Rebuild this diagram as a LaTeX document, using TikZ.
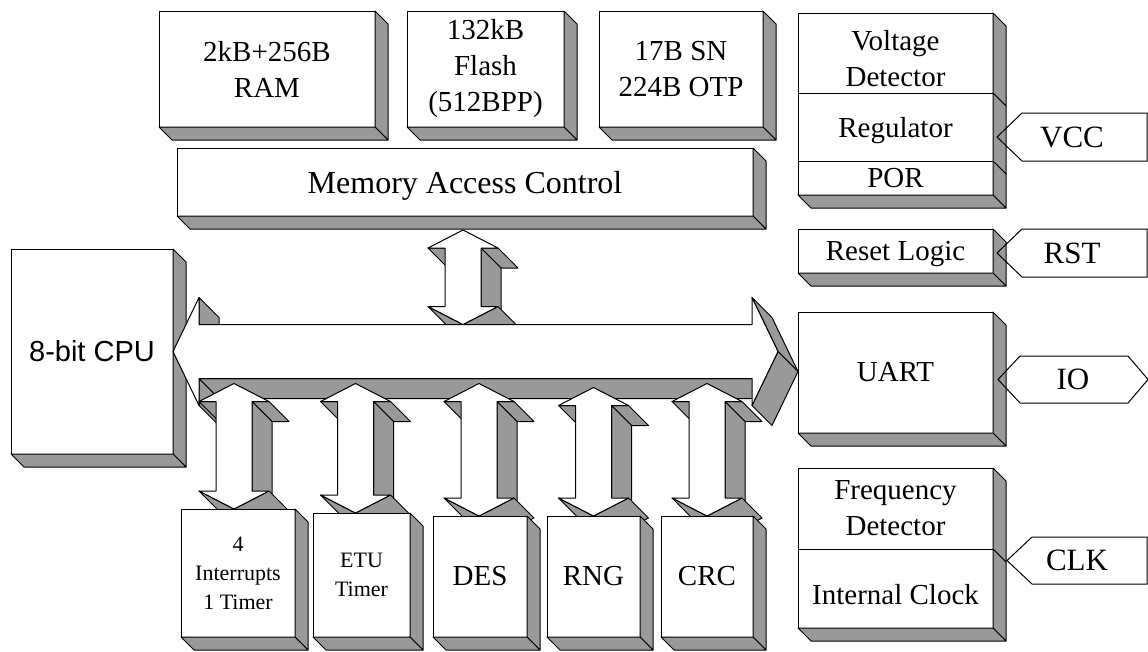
\documentclass[tikz,border=0pt]{standalone}
\usepackage{fontspec}
\setmainfont{Liberation Serif}
\setsansfont{Liberation Sans}
\usepackage{tikz}
\usetikzlibrary{calc,positioning}
\pgfdeclarelayer{back}
\pgfsetlayers{back,main}

\tikzset{
	blk/.style={draw, fill=white, line width=1pt, inner sep=0pt, outer sep=0pt, align=center, font=\fontsize{29}{36}\selectfont},
	small/.style={font=\fontsize{22}{29}\selectfont},
	side/.style={draw, fill=black!40, line width=1pt, line join=round},
	face/.style={draw, fill=white, line width=1pt, line join=round},
	pin/.style={inner sep=0pt, outer sep=0pt, align=center, font=\fontsize{31}{36}\selectfont}
}

\newcommand{\sidedepth}[1]{\filldraw[side] (#1.north east) -- (#1.south east) -- ++(13,13) -- ($(#1.north east)+(13,13)$) -- cycle;}
\newcommand{\basedepth}[1]{\filldraw[side] (#1.south west) -- (#1.south east) -- ++(13,13) -- ($(#1.south west)+(13,13)$) -- cycle;}
\newcommand{\boxdepth}[1]{\sidedepth{#1}\basedepth{#1}}
\newcommand{\pinleft}[1]{\draw[line width=1pt] (#1.west) -- ($(#1.north west)+(25,0)$) -- (#1.north east) -- (#1.south east) -- ($(#1.south west)+(25,0)$) -- cycle;}
\newcommand{\updown}[2]{%
	\path #1 coordinate (tp) #2 coordinate (bt);
	\filldraw[side] ($(tp)+(35,18)$) -- ($(tp)+(18,18)$) -- ($(tp)+(38,38)$) -- ($(tp)+(55,38)$) -- cycle;
	\filldraw[side] ($(tp)+(18,18)$) -- ($(bt)+(18,-18)$) -- ($(bt)+(38,2)$) -- ($(tp)+(38,38)$) -- cycle;
	\filldraw[side] ($(tp)+(-18,18)$) -- ($(tp)+(-35,18)$) -- ($(tp)+(-15,38)$) -- ($(tp)+(2,38)$) -- cycle;
	\filldraw[side] ($(bt)+(35,-18)$) -- (bt) -- ($(bt)+(20,20)$) -- ($(bt)+(55,2)$) -- cycle;
	\filldraw[side] (bt) -- ($(bt)+(-35,-18)$) -- ($(bt)+(-15,2)$) -- ($(bt)+(20,20)$) -- cycle;
	\filldraw[face] (tp) -- ($(tp)+(35,18)$) -- ($(tp)+(18,18)$) -- ($(bt)+(18,-18)$) -- ($(bt)+(35,-18)$) -- (bt)
		-- ($(bt)+(-35,-18)$) -- ($(bt)+(-18,-18)$) -- ($(tp)+(-18,18)$) -- ($(tp)+(-35,18)$) -- cycle;}

\begin{document}
\begin{tikzpicture}[x=1pt,y=-1pt]
	\useasboundingbox (0,0) rectangle (1148,651);

	\node[blk, minimum width=216pt, minimum height=116pt] (ram) at (267,69) {2kB+256B\\RAM};
	\node[blk, minimum width=157pt, minimum height=116pt] (flash) at (485.5,69) {132kB\\Flash\\(512BPP)};
	\node[blk, minimum width=164pt, minimum height=116pt] (sn) at (681,69) {17B SN\\224B OTP};
	\node[blk, minimum width=576pt, minimum height=68pt, text depth=0pt, font=\fontsize{32}{36}\selectfont] (mac) at (465,182) {Memory Access Control};
	\boxdepth{ram}
	\boxdepth{flash}
	\boxdepth{sn}
	\boxdepth{mac}

	\node[blk, minimum width=195pt, minimum height=80pt, text height=68pt] (vdet) at (895.5,53) {Voltage\\Detector};
	\node[blk, minimum width=195pt, minimum height=68pt, text depth=0pt] (reg) [below=0pt of vdet] {Regulator};
	\node[blk, minimum width=195pt, minimum height=34pt] (por) [below=0pt of reg] {POR};
	\node[blk, minimum width=195pt, minimum height=44pt, text depth=0pt] (rstl) at (895.5,251) {Reset Logic};
	\node[blk, minimum width=195pt, minimum height=121pt] (uart) at (895.5,372.5) {UART};
	\node[blk, minimum width=195pt, minimum height=81pt] (fdet) at (895.5,508.5) {Frequency\\Detector};
	\node[blk, minimum width=195pt, minimum height=79pt, text height=32pt] (iclk) [below=0pt of fdet] {Internal Clock};
	\sidedepth{vdet}
	\sidedepth{reg}
	\boxdepth{por}
	\boxdepth{rstl}
	\boxdepth{uart}
	\sidedepth{fdet}
	\boxdepth{iclk}

	\node[pin, minimum width=150pt, minimum height=48pt] (vcc) at (1072,137) {VCC};
	\node[pin, minimum width=150pt, minimum height=48pt] (rst) at (1072,253) {RST};
	\node[pin, minimum width=150pt, minimum height=47pt] (io) at (1073,379.5) {IO};
	\node[pin, minimum width=140pt, minimum height=47pt] (clk) at (1077,560.5) {CLK};
	\pinleft{vcc}
	\pinleft{rst}
	\pinleft{clk}
	\draw[line width=1pt] (io.west) -- ($(io.north west)+(22,0)$) -- ($(io.north east)+(-20,0)$) -- (io.east)
		-- ($(io.south east)+(-20,0)$) -- ($(io.south west)+(22,0)$) -- cycle;

	\node[blk, small, minimum width=114pt, minimum height=128pt] (int) at (238,573) {4\\Interrupts\\1 Timer};
	\node[blk, small, minimum width=97pt, minimum height=124pt] (etu) [right=18pt of int.south east, anchor=south west] {ETU\\Timer};
	\node[blk, minimum width=94pt, minimum height=121pt] (des) [right=23pt of etu.south east, anchor=south west] {DES};
	\node[blk, minimum width=93pt, minimum height=121pt] (rng) [right=20pt of des.south east, anchor=south west] {RNG};
	\node[blk, minimum width=92pt, minimum height=121pt] (crc) [right=21pt of rng.south east, anchor=south west] {CRC};
	\boxdepth{int}
	\boxdepth{etu}
	\boxdepth{des}
	\boxdepth{rng}
	\boxdepth{crc}

	\begin{pgfonlayer}{back}
		\node[blk, minimum width=162pt, minimum height=205pt, font=\sffamily\fontsize{29}{36}\selectfont] (cpu) at (92,351.5) {8-bit CPU};
		\boxdepth{cpu}
		\coordinate (busL) at (cpu.east);
		\coordinate (busR) at ($(uart.west |- busL)+(-20,0)$);
		\coordinate (mtop) at ($(mac.south)+(-2,14)$);

		\updown{(mtop)}{($(mtop |- busL)+(0,-27)$)}

		\filldraw[side] ($(busL)+(26,-54)$) -- ($(busL)+(26,-27)$) -- ($(busL)+(46,-7)$) -- ($(busL)+(46,-34)$) -- cycle;
		\filldraw[side] ($(busL)+(26,27)$) -- ($(busL)+(26,54)$) -- ($(busL)+(46,74)$) -- ($(busL)+(46,47)$) -- cycle;
		\filldraw[side] ($(busR)+(-26,27)$) -- ($(busL)+(26,27)$) -- ($(busL)+(46,47)$) -- ($(busR)+(-6,47)$) -- cycle;
		\filldraw[side] ($(busR)+(-26,-54)$) -- (busR) -- ($(busR)+(20,20)$) -- ($(busR)+(-6,-34)$) -- cycle;
		\filldraw[side] (busR) -- ($(busR)+(-26,54)$) -- ($(busR)+(-6,74)$) -- ($(busR)+(20,20)$) -- cycle;
		\filldraw[face] (busL) -- ($(busL)+(26,-54)$) -- ($(busL)+(26,-27)$) -- ($(busR)+(-26,-27)$) -- ($(busR)+(-26,-54)$) -- (busR)
			-- ($(busR)+(-26,54)$) -- ($(busR)+(-26,27)$) -- ($(busL)+(26,27)$) -- ($(busL)+(26,54)$) -- cycle;

		\updown{($(int.north |- busL)+(-4,32)$)}{($(int.north)+(-4,0)$)}
		\updown{($(etu.north |- busL)+(-6,32)$)}{($(etu.north)+(-6,0)$)}
		\updown{($(des.north |- busL)+(-1,32)$)}{($(des.north)+(-1,0)$)}
		\updown{($(rng.north |- busL)+(0,36)$)}{(rng.north)}
		\updown{($(crc.north |- busL)+(0,32)$)}{(crc.north)}
	\end{pgfonlayer}
\end{tikzpicture}
\end{document}
